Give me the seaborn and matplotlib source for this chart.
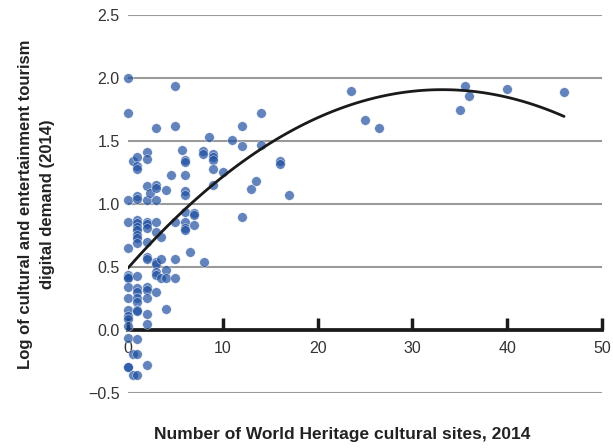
import numpy as np
import pandas as pd
import matplotlib
matplotlib.use("Agg")
import matplotlib.pyplot as plt
import seaborn as sns

# Number of World Heritage cultural sites (x) vs log tourism digital demand (y)
sites = [0, 0, 0, 0, 0, 0, 0, 0, 0, 0, 0, 0, 0, 0, 0, 0, 0,
         0.5, 0.5, 0.5,
         1, 1, 1, 1, 1, 1, 1, 1, 1, 1, 1, 1, 1, 1, 1, 1, 1, 1, 1, 1, 1, 1,
         2, 2, 2, 2, 2, 2, 2, 2, 2, 2, 2, 2, 2, 2, 2, 2, 2.3,
         3, 3, 3, 3, 3, 3, 3, 3, 3, 3, 3, 3.5, 3.5, 3.5,
         4, 4, 4, 4, 4.5,
         5, 5, 5, 5, 5, 5.7,
         6, 6, 6, 6, 6, 6, 6, 6, 6, 6.5,
         7, 7, 7, 7.9, 7.9, 8, 8.5,
         9, 9, 9, 9, 9, 10, 11, 12, 12, 12, 13, 13.5, 14, 14, 16, 16, 17,
         23.5, 25, 26.5, 35, 35.5, 36, 40, 46]
demand = [2.00, 1.72, 1.03, 0.86, 0.65, 0.44, 0.42, 0.41, 0.34, 0.25, 0.16, 0.11, 0.09, 0.03, -0.06, -0.29, -0.29,
          1.34, -0.19, -0.36,
          1.37, 1.30, 1.28, 1.06, 1.04, 0.87, 0.85, 0.82, 0.79, 0.75, 0.73, 0.69, 0.43, 0.33, 0.30, 0.25, 0.22, 0.16, 0.15, -0.07, -0.19, -0.36,
          1.41, 1.36, 1.14, 1.03, 0.86, 0.84, 0.81, 0.70, 0.58, 0.56, 0.34, 0.32, 0.25, 0.13, 0.05, -0.28, 1.09,
          1.60, 1.15, 1.13, 1.03, 0.86, 0.78, 0.54, 0.52, 0.46, 0.44, 0.30, 0.74, 0.56, 0.41,
          1.11, 0.48, 0.41, 0.17, 1.23,
          1.94, 1.62, 0.86, 0.56, 0.41, 1.43,
          1.35, 1.33, 1.23, 1.10, 1.07, 0.94, 0.86, 0.81, 0.79, 0.62,
          0.93, 0.91, 0.83, 1.42, 1.40, 0.54, 1.53,
          1.40, 1.37, 1.35, 1.28, 1.15, 1.25, 1.51, 1.62, 1.46, 0.90, 1.12, 1.18, 1.72, 1.47, 1.34, 1.32, 1.07,
          1.90, 1.67, 1.60, 1.75, 1.94, 1.86, 1.91, 1.89]

x_ticks = [0, 10, 20, 30, 40, 50]
y_ticks = [-0.5, 0.0, 0.5, 1.0, 1.5, 2.0, 2.5]

df = pd.DataFrame({"sites": sites, "demand": demand})

sns.set_theme(style="white")
plt.rcParams["font.family"] = ["Liberation Sans", "DejaVu Sans"]

fig = plt.figure(figsize=(6.13, 4.48), dpi=100)
ax = fig.add_axes([0.2088, 0.1228, 0.7732, 0.8437])

# points, then a quadratic trend line on top
sns.scatterplot(data=df, x="sites", y="demand", ax=ax, color="#1f4fa0", alpha=0.7,
                s=48, edgecolor="white", linewidth=0.4, clip_on=False, zorder=3)
sns.regplot(data=df, x="sites", y="demand", ax=ax, order=2, ci=None, scatter=False,
            line_kws={"color": "#1a1a1a", "lw": 2.0, "zorder": 4})

ax.set_xlim(0, 50)
ax.set_ylim(-0.5, 2.5)
ax.set_xticks(x_ticks)
ax.set_yticks(y_ticks)

# horizontal gray grid, x axis drawn at y = 0
ax.yaxis.grid(True, color="#9a9a9a", lw=1.5)
ax.xaxis.grid(False)
ax.set_axisbelow(True)
for side in ["top", "right", "left"]:
    ax.spines[side].set_visible(False)
ax.spines["bottom"].set_position(("data", 0))
ax.spines["bottom"].set_color("#1a1a1a")
ax.spines["bottom"].set_linewidth(2.7)
ax.spines["bottom"].set_zorder(2.6)

ax.tick_params(axis="x", direction="in", length=9, width=2.5, color="#1a1a1a",
               pad=8, labelsize=11.5, labelcolor="#333333", bottom=True)
ax.tick_params(axis="y", length=0, pad=6, labelsize=11.5, labelcolor="#333333")

ax.set_xlabel("Number of World Heritage cultural sites, 2014", fontsize=12.5,
              fontweight="bold", color="#222222")
ax.xaxis.set_label_coords((342 - 128) / 474, -0.09)
ax.set_ylabel("Log of cultural and entertainment tourism\ndigital demand (2014)",
              fontsize=12, fontweight="bold", color="#222222", labelpad=24,
              linespacing=1.6)

fig.savefig("out.png", dpi=100)
